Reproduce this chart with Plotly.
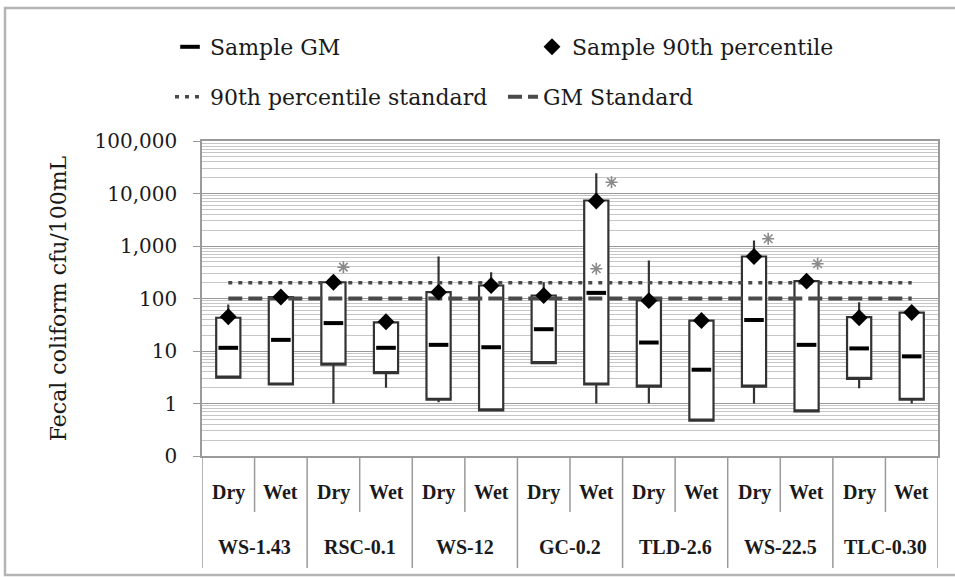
import plotly.graph_objects as go

# ---------------- data ----------------
groups = ["WS-1.43", "RSC-0.1", "WS-12", "GC-0.2", "TLD-2.6", "WS-22.5", "TLC-0.30"]
seasons = ["Dry", "Wet"]

box_low = [3.1, 2.3, 5.5, 3.8, 1.18, 0.74, 5.9, 2.3, 2.1, 0.47, 2.1, 0.71, 2.95, 1.18]
box_high = [43, 106, 204, 35, 132, 177, 114, 7360, 92, 38, 631, 214, 44, 54]
sample_min = [3.1, 2.3, 1.0, 2.0, 1.06, 0.74, 5.9, 1.0, 1.0, 0.47, 1.0, 0.71, 1.96, 1.0]
sample_max = [77, 106, 204, 35, 631, 317, 204, 24400, 530, 38, 1273, 214, 85, 54]
sample_gm = [11.5, 16.3, 34, 11.5, 13.1, 11.8, 26, 128, 14.5, 4.4, 39, 13.1, 11.2, 7.9]
sample_p90 = [45, 107, 204, 36, 132, 177, 114, 7200, 91, 38, 631, 214, 43, 54]

p90_standard = 200
gm_standard = 100

star_idx = [2, 7, 7, 10, 11]
star_dx = [0.19, 0.29, 0.0, 0.27, 0.21]
star_y = [395, 16400, 368, 1372, 458]

tick_vals = [0.1, 1, 10, 100, 1000, 10000, 100000]
tick_text = ["0", "1", "10", "100", "1,000", "10,000", "100,000"]

# ---------------- figure ----------------
n = len(groups) * len(seasons)
xs = list(range(n))
inner = [s for g in groups for s in seasons]

SERIF = "DejaVu Serif"
TXT = "#1a1a1a"
EDGE = "#9a9a9a"

fig = go.Figure()

fig.add_trace(go.Scatter(
    x=[xs[0], xs[-1]], y=[p90_standard] * 2, mode="lines",
    line=dict(color="#4a4a4a", width=3.5, dash="4px,6px"),
    name="90th percentile standard", legend="legend2", hoverinfo="skip"))
fig.add_trace(go.Scatter(
    x=[xs[0], xs[-1]], y=[gm_standard] * 2, mode="lines",
    line=dict(color="#4a4a4a", width=4, dash="14px,6px"),
    name="GM Standard", legend="legend2", hoverinfo="skip"))

fig.add_trace(go.Box(
    x=xs, q1=box_low, median=box_low, q3=box_high,
    lowerfence=sample_min, upperfence=sample_max,
    width=0.46, whiskerwidth=0, fillcolor="white",
    line=dict(color="#333333", width=2.2), boxpoints=False,
    showlegend=False, hoverinfo="skip"))

fig.add_trace(go.Scatter(
    x=xs, y=sample_gm, mode="markers", name="Sample GM", legend="legend",
    marker=dict(symbol="line-ew", size=14, color="black",
                line=dict(width=4, color="black"))))
fig.add_trace(go.Scatter(
    x=xs, y=sample_p90, mode="markers", name="Sample 90th percentile", legend="legend",
    marker=dict(symbol="diamond", size=13, color="black")))

fig.add_trace(go.Scatter(
    x=[i + d for i, d in zip(star_idx, star_dx)], y=star_y, mode="markers",
    marker=dict(symbol="asterisk-open", size=10, color="#8a8a8a",
                line=dict(width=1.6, color="#8a8a8a")),
    showlegend=False, hoverinfo="skip"))

# plot area in pixels: x 202..938, y 141..456
PH = 315.0
shapes = []
for k in range(n + 1):
    long_line = (k % 2 == 0)
    shapes.append(dict(type="line", xref="x", yref="paper",
                       x0=k - 0.5, x1=k - 0.5, y0=0,
                       y1=-(112 / PH) if long_line else -(56 / PH),
                       line=dict(color=EDGE, width=1.5)))
# outer frame of the chart
shapes.append(dict(type="rect", xref="paper", yref="paper",
                   x0=-197 / 736, x1=1.05, y0=-119 / PH, y1=448 / PH,
                   line=dict(color="#b4b4b4", width=2.5), layer="below"))

annotations = []
for i, s in enumerate(inner):
    annotations.append(dict(x=i, y=-36 / PH, xref="x", yref="paper", text="<b>%s</b>" % s,
                            showarrow=False, yanchor="middle",
                            font=dict(family="Liberation Serif", size=20, color=TXT)))
for g, name in enumerate(groups):
    annotations.append(dict(x=2 * g + 0.5, y=-91 / PH, xref="x", yref="paper",
                            text="<b>%s</b>" % name, showarrow=False, yanchor="middle",
                            font=dict(family="Liberation Serif", size=20, color=TXT)))

legend_common = dict(orientation="h", xanchor="left", yanchor="middle",
                     bgcolor="rgba(0,0,0,0)",
                     font=dict(family=SERIF, size=22, color=TXT))

fig.update_layout(
    width=955, height=577,
    margin=dict(l=202, r=17, t=141, b=121),
    paper_bgcolor="white", plot_bgcolor="white",
    showlegend=True,
    legend=dict(x=-32 / 736, y=(456 - 47) / PH, entrywidth=317, **legend_common),
    legend2=dict(x=-32 / 736, y=(456 - 97) / PH, entrywidth=288, **legend_common),
    xaxis=dict(range=[-0.5, n - 0.5], showticklabels=False, ticks="", showgrid=False,
               zeroline=False, showline=True, mirror=True, linecolor=EDGE, linewidth=1.5),
    yaxis=dict(type="log", range=[-1, 5], tickmode="array", tickvals=tick_vals,
               ticktext=tick_text, ticks="outside", ticklen=7, tickcolor=EDGE,
               ticklabelstandoff=12,
               showgrid=True, gridcolor="#999999", gridwidth=1.2,
               minor=dict(dtick="D1", showgrid=True, gridcolor="#c6c6c6", gridwidth=1, ticks=""),
               zeroline=False, showline=True, mirror=True, linecolor=EDGE, linewidth=1.5,
               tickfont=dict(family=SERIF, size=20, color=TXT),
               title=dict(text="Fecal coliform cfu/100mL", standoff=22,
                          font=dict(family=SERIF, size=22, color=TXT))),
    shapes=shapes, annotations=annotations,
)

fig.write_html("out.html")
